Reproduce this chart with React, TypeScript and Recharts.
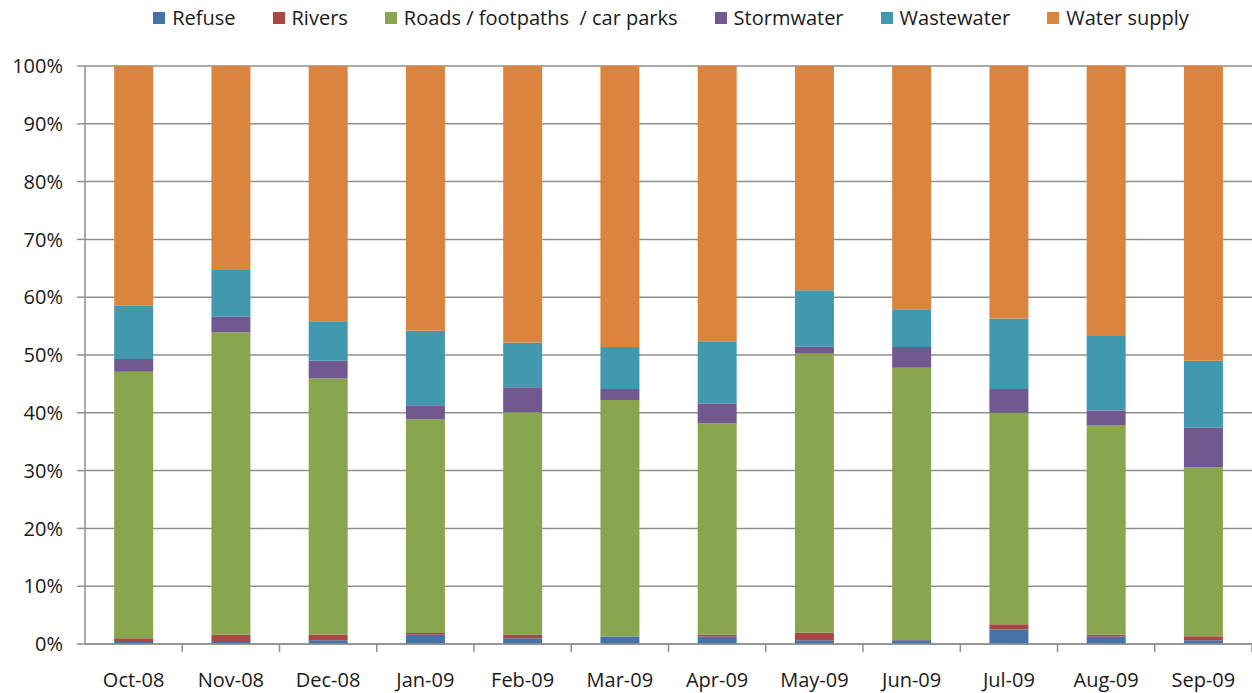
import React from 'react';
import { BarChart, Bar, XAxis, YAxis, CartesianGrid, Legend } from 'recharts';

const months = ['Oct-08', 'Nov-08', 'Dec-08', 'Jan-09', 'Feb-09', 'Mar-09', 'Apr-09', 'May-09', 'Jun-09', 'Jul-09', 'Aug-09', 'Sep-09'];
const refuse = [0.35, 0.35, 0.64, 1.6, 1.0, 1.3, 1.3, 0.64, 0.64, 2.5, 1.3, 0.64];
const rivers = [0.65, 1.25, 1.0, 0.3, 0.6, 0.05, 0.3, 1.3, 0.05, 0.9, 0.3, 0.7];
const roads = [46.1, 52.3, 44.3, 37.0, 38.5, 40.85, 36.6, 48.3, 47.1, 36.6, 36.3, 29.3];
const stormwater = [2.2, 2.7, 3.1, 2.4, 4.3, 1.9, 3.4, 1.2, 3.6, 4.1, 2.5, 6.8];
const wastewater = [9.2, 8.1, 6.8, 12.9, 7.7, 7.3, 10.8, 9.8, 6.5, 12.2, 12.9, 11.6];
const waterSupply = [41.5, 35.3, 44.2, 45.8, 47.9, 48.6, 47.6, 38.8, 42.1, 43.7, 46.7, 51.0];
const yTicks = [0, 0.1, 0.2, 0.3, 0.4, 0.5, 0.6, 0.7, 0.8, 0.9, 1];

const series = [
  { key: 'refuse', name: 'Refuse', color: '#4572A7', values: refuse },
  { key: 'rivers', name: 'Rivers', color: '#AA4643', values: rivers },
  { key: 'roads', name: 'Roads / footpaths  / car parks', color: '#89A54E', values: roads },
  { key: 'stormwater', name: 'Stormwater', color: '#71588F', values: stormwater },
  { key: 'wastewater', name: 'Wastewater', color: '#4198AF', values: wastewater },
  { key: 'water', name: 'Water supply', color: '#DB843D', values: waterSupply },
];

const data = months.map((m, i) => {
  const row: any = { month: m };
  series.forEach(s => { row[s.key] = s.values[i]; });
  return row;
});

const W = 1252;
const H = 693;
const Y_AXIS_W = 85;
const BAND = (W - Y_AXIS_W) / months.length;
const FONT = "'Open Sans', sans-serif";
const GRID = '#8f8f8f';

function MonthTick({ x, y, payload }: any) {
  // Excel style: tick marks sit between categories
  return (
    <g>
      <line x1={x + BAND / 2} y1={y} x2={x + BAND / 2} y2={y + 8} stroke={GRID} strokeWidth={1.5} />
      <text x={x} y={y + 43} textAnchor="middle" fill="#1a1a1a" fontSize={20} fontFamily={FONT}>
        {payload.value}
      </text>
    </g>
  );
}

function renderLegend() {
  return (
    <div style={{ display: 'flex', justifyContent: 'center', paddingTop: 5, paddingLeft: 127, fontFamily: FONT, fontSize: 20, lineHeight: '26px', color: '#1a1a1a' }}>
      {series.map(s => (
        <div key={s.key} style={{ display: 'flex', alignItems: 'center', marginRight: 37, whiteSpace: 'pre' }}>
          <span style={{ width: 12, height: 12, background: s.color, marginRight: 7, display: 'inline-block' }} />
          {s.name}
        </div>
      ))}
    </div>
  );
}

export default function App() {
  return (
    <div style={{ position: 'absolute', left: 0, top: 0, background: '#fff' }}>
      <BarChart width={W} height={H} data={data} stackOffset="expand" barCategoryGap="30%" margin={{ top: 0, right: 0, left: 0, bottom: 0 }}>
        <Legend verticalAlign="top" height={66} content={renderLegend} />
        <CartesianGrid vertical={false} stroke={GRID} strokeWidth={1.5} />
        <XAxis dataKey="month" height={49} tickSize={0} tickMargin={0} tick={<MonthTick />} axisLine={{ stroke: GRID, strokeWidth: 1.5 }} tickLine={false} interval={0} />
        <YAxis width={Y_AXIS_W} domain={[0, 1]} ticks={yTicks} tickSize={8} tickMargin={14} tickFormatter={(v: number) => `${Math.round(v * 100)}%`} tick={{ fill: '#1a1a1a', fontSize: 20, fontFamily: FONT }} axisLine={{ stroke: GRID, strokeWidth: 1.5 }} tickLine={{ stroke: GRID, strokeWidth: 1.5 }} />
        {series.map(s => (
          <Bar key={s.key} dataKey={s.key} name={s.name} stackId="a" fill={s.color} isAnimationActive={false} />
        ))}
      </BarChart>
    </div>
  );
}
